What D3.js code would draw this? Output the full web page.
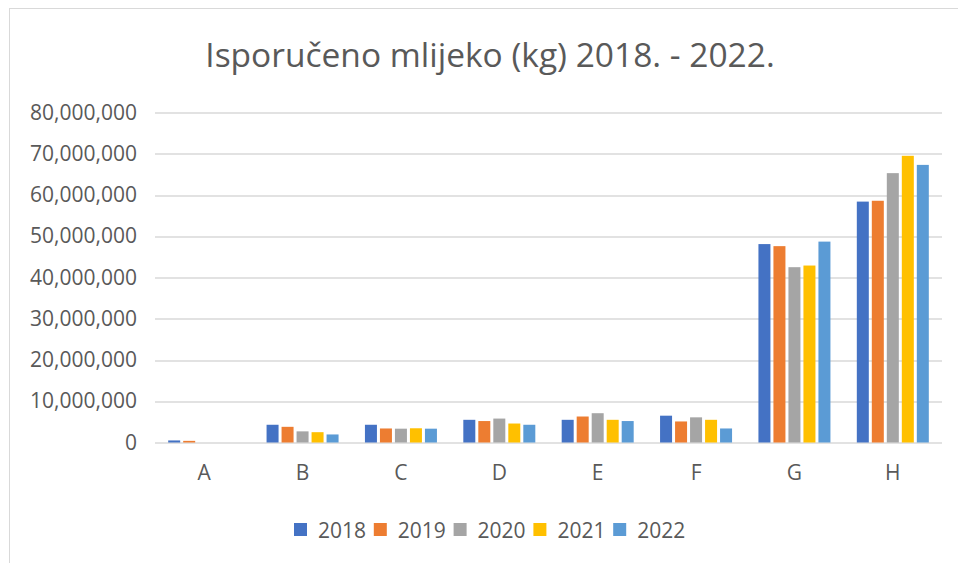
<!DOCTYPE html>
<html>
<head>
<meta charset="utf-8">
<script src="https://cdn.jsdelivr.net/npm/d3@7"></script>
<style>
  body { margin: 0; background: #fff; }
  svg { display: block; font-family: "Open Sans", sans-serif; }
</style>
</head>
<body>
<svg id="chart" width="958" height="563"></svg>
<script>
// values in kg
const categories = ["A", "B", "C", "D", "E", "F", "G", "H"]
const years = ["2018", "2019", "2020", "2021", "2022"]
const values2018 = [500000, 4300000, 4300000, 5500000, 5500000, 6500000, 48100000, 58400000]
const values2019 = [400000, 3800000, 3400000, 5200000, 6300000, 5100000, 47600000, 58600000]
const values2020 = [0, 2700000, 3350000, 5800000, 7100000, 6100000, 42500000, 65300000]
const values2021 = [0, 2500000, 3450000, 4600000, 5500000, 5500000, 42900000, 69500000]
const values2022 = [0, 1950000, 3350000, 4300000, 5200000, 3400000, 48700000, 67300000]
const yTicks = [0, 10000000, 20000000, 30000000, 40000000, 50000000, 60000000, 70000000, 80000000]
const colors = ["#4472C4", "#ED7D31", "#A5A5A5", "#FFC000", "#5B9BD5"]

const seriesByYear = [values2018, values2019, values2020, values2021, values2022]

const svg = d3.select("#chart")
const margin = {top: 112.5, right: 16, bottom: 120.5, left: 155}
const width = 958 - margin.left - margin.right
const height = 563 - margin.top - margin.bottom
const textColor = "#595959"
const gridColor = "#d9d9d9"

// outer chart frame (right and bottom edges fall off the page)
svg.append("rect")
  .attr("x", 9.5)
  .attr("y", 8.5)
  .attr("width", 1000)
  .attr("height", 600)
  .attr("fill", "none")
  .attr("stroke", gridColor)

svg.append("text")
  .attr("x", 490)
  .attr("y", 67)
  .attr("text-anchor", "middle")
  .attr("fill", textColor)
  .style("font-size", "33.5px")
  .text("Isporučeno mlijeko (kg) 2018. - 2022.")

const g = svg.append("g")
  .attr("transform", `translate(${margin.left},${margin.top})`)

const x0 = d3.scaleBand().domain(categories).range([0, width]).padding(0)
const x1 = d3.scaleBand().domain(years).range([-37.5, 37.5]).paddingInner(0.2).paddingOuter(0.1)
const y = d3.scaleLinear().domain([0, 80000000]).range([height, 0])

// gridlines
g.append("g")
  .selectAll("line")
  .data(yTicks)
  .join("line")
  .attr("x1", 0)
  .attr("x2", width)
  .attr("y1", d => Math.round(y(d)) + 0.5)
  .attr("y2", d => Math.round(y(d)) + 0.5)
  .attr("stroke", gridColor)
  .attr("stroke-width", 1.3)

// y axis labels
const yAxis = g.append("g")
  .call(d3.axisLeft(y).tickValues(yTicks).tickFormat(d3.format(",")).tickSize(0).tickPadding(18))
yAxis.select(".domain").remove()
yAxis.selectAll("text")
  .attr("fill", textColor)
  .style("font-size", "21px")
  .style("font-family", "Open Sans, sans-serif")

// x axis labels
const xAxis = g.append("g")
  .attr("transform", `translate(0,${height})`)
  .call(d3.axisBottom(x0).tickSize(0).tickPadding(23))
xAxis.select(".domain").remove()
xAxis.selectAll("text")
  .attr("fill", textColor)
  .style("font-size", "21px")
  .style("font-family", "Open Sans, sans-serif")

// bars
const groups = g.append("g")
  .selectAll("g")
  .data(categories)
  .join("g")
  .attr("transform", d => `translate(${x0(d) + x0.bandwidth() / 2},0)`)

groups.selectAll("rect")
  .data((c, i) => years.map((yr, k) => ({year: yr, value: seriesByYear[k][i], color: colors[k]})))
  .join("rect")
  .attr("x", d => x1(d.year))
  .attr("width", x1.bandwidth())
  .attr("y", d => y(d.value))
  .attr("height", d => height - y(d.value))
  .attr("fill", d => d.color)

// legend
const legend = svg.append("g")
  .attr("transform", "translate(294,530)")
const itemWidth = 79.8
const items = legend.selectAll("g")
  .data(years)
  .join("g")
  .attr("transform", (d, i) => `translate(${i * itemWidth},0)`)
items.append("rect")
  .attr("x", 0)
  .attr("y", -7)
  .attr("width", 13)
  .attr("height", 13)
  .attr("fill", (d, i) => colors[i])
items.append("text")
  .attr("x", 24)
  .attr("y", 7.5)
  .attr("fill", textColor)
  .style("font-size", "21px")
  .text(d => d)
</script>
</body>
</html>
